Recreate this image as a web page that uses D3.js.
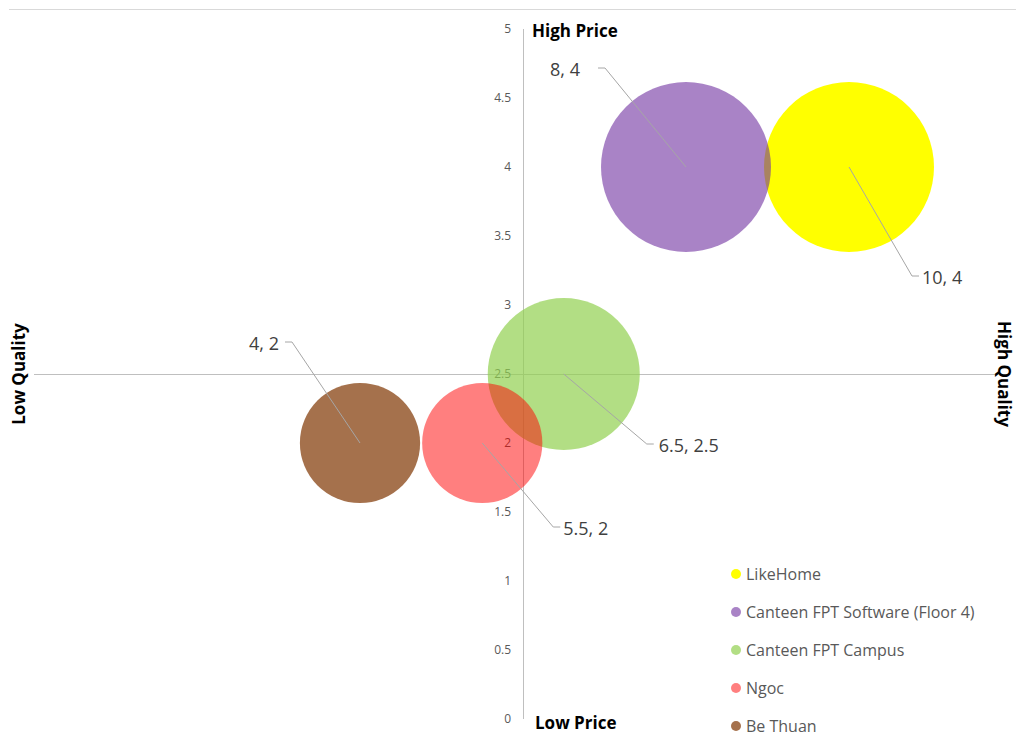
<!DOCTYPE html>
<html>
<head>
<meta charset="utf-8">
<script src="https://cdn.jsdelivr.net/npm/d3@7"></script>
<style>
  html, body { margin: 0; padding: 0; background: #fff; }
  svg { display: block; font-family: "Open Sans", "Noto Sans", sans-serif; }
</style>
</head>
<body>
<svg id="chart" width="1016" height="736"></svg>
<script>
// Restaurants positioned by quality (x) and price (y); bubble area = size
const names = ["LikeHome", "Canteen FPT Software (Floor 4)", "Canteen FPT Campus", "Ngoc", "Be Thuan"];
const quality = [10, 8, 6.5, 5.5, 4];
const price = [4, 4, 2.5, 2, 2];
const sizes = [10, 10, 8, 5, 5];
const yTicks = [0, 0.5, 1, 1.5, 2, 2.5, 3, 3.5, 4, 4.5, 5];

// Series styling
const fills = ["#FFFF00", "#7030A0", "#92D050", "#FF0000", "#A5714C"];
const fillOpacity = [1, 0.6, 0.7, 0.5, 1];

// Data-label placement: leader elbow offset from bubble centre, text side, gap
const labelLayout = [
  { dx: 63, dy: 109, side: "right", gap: 3 },
  { dx: -81, dy: -99, side: "left", gap: 18 },
  { dx: 83, dy: 70, side: "right", gap: 5 },
  { dx: 71, dy: 84, side: "right", gap: 3 },
  { dx: -68, dy: -101, side: "left", gap: 6 }
];

const svg = d3.select("#chart");

const x = d3.scaleLinear().domain([0, 12]).range([34, 1012]);
const y = d3.scaleLinear().domain([0, 5]).range([719, 29]);
const r = d3.scaleSqrt().domain([0, d3.max(sizes)]).range([0, 85]);

const xCross = 6;     // vertical axis crosses at quality 6
const yCross = 2.5;   // horizontal axis crosses at price 2.5
const plotRight = 997;

// Chart-area top border
svg.append("line")
  .attr("x1", 9).attr("x2", 1016)
  .attr("y1", 9.5).attr("y2", 9.5)
  .attr("stroke", "#D9D9D9").attr("stroke-width", 1);

// Axis lines
svg.append("line")
  .attr("x1", x(0)).attr("x2", plotRight)
  .attr("y1", Math.round(y(yCross)) + 0.5).attr("y2", Math.round(y(yCross)) + 0.5)
  .attr("stroke", "#BFBFBF");
svg.append("line")
  .attr("x1", Math.round(x(xCross)) + 0.5).attr("x2", Math.round(x(xCross)) + 0.5)
  .attr("y1", y(5)).attr("y2", y(0))
  .attr("stroke", "#BFBFBF");

// Y tick labels along the vertical axis
const yAxis = d3.axisLeft(y).tickValues(yTicks).tickSize(0).tickPadding(12)
  .tickFormat(d => String(d));
const gy = svg.append("g")
  .attr("transform", `translate(${x(xCross)},0)`)
  .call(yAxis);
gy.select(".domain").remove();
gy.selectAll("text")
  .attr("fill", "#595959")
  .style("font-size", "12px")
  .style("font-family", "'Open Sans', 'Noto Sans', sans-serif");

// Bubbles, drawn in series order
const data = names.map((n, i) => ({
  name: n, q: quality[i], p: price[i], s: sizes[i],
  fill: fills[i], op: fillOpacity[i], lab: labelLayout[i]
}));

svg.append("g").selectAll("circle")
  .data(data)
  .join("circle")
  .attr("cx", d => x(d.q))
  .attr("cy", d => y(d.p))
  .attr("r", d => r(d.s))
  .attr("fill", d => d.fill)
  .attr("fill-opacity", d => d.op);

// Data labels with leader lines
const labels = svg.append("g");
data.forEach(d => {
  const cx = x(d.q), cy = y(d.p);
  const ex = cx + d.lab.dx, ey = cy + d.lab.dy;
  const dir = d.lab.side === "right" ? 1 : -1;
  const tx = ex + dir * 7;
  labels.append("polyline")
    .attr("points", `${cx},${cy} ${ex},${ey} ${tx},${ey}`)
    .attr("fill", "none")
    .attr("stroke", "#A6A6A6")
    .attr("stroke-width", 1);
  labels.append("text")
    .attr("x", tx + dir * d.lab.gap)
    .attr("y", ey + 2)
    .attr("dy", "0.35em")
    .attr("text-anchor", dir > 0 ? "start" : "end")
    .attr("fill", "#404040")
    .style("font-size", "18px")
    .text(`${d.q}, ${d.p}`);
});

// Axis titles
const titleStyle = sel => sel
  .attr("fill", "#000")
  .style("font-size", "17px")
  .style("font-weight", "bold");

svg.append("text").call(titleStyle)
  .attr("x", 532).attr("y", y(5) + 2).attr("dy", "0.35em")
  .text("High Price");
svg.append("text").call(titleStyle)
  .attr("x", 535).attr("y", 723).attr("dy", "0.35em")
  .text("Low Price");
svg.append("text").call(titleStyle)
  .attr("transform", `translate(19,${y(yCross)}) rotate(-90)`)
  .attr("text-anchor", "middle").attr("dy", "0.35em")
  .text("Low Quality");
svg.append("text").call(titleStyle)
  .attr("transform", `translate(1004,${y(yCross)}) rotate(90)`)
  .attr("text-anchor", "middle").attr("dy", "0.35em")
  .text("High Quality");

// Legend
const legend = svg.append("g").attr("transform", "translate(736,574)");
const rows = legend.selectAll("g")
  .data(data)
  .join("g")
  .attr("transform", (d, i) => `translate(0,${i * 38})`);
rows.append("circle")
  .attr("r", 5)
  .attr("fill", d => d.fill)
  .attr("fill-opacity", d => d.op);
rows.append("text")
  .attr("x", 10)
  .attr("dy", "0.35em")
  .attr("fill", "#595959")
  .style("font-size", "16px")
  .text(d => d.name);
</script>
</body>
</html>
